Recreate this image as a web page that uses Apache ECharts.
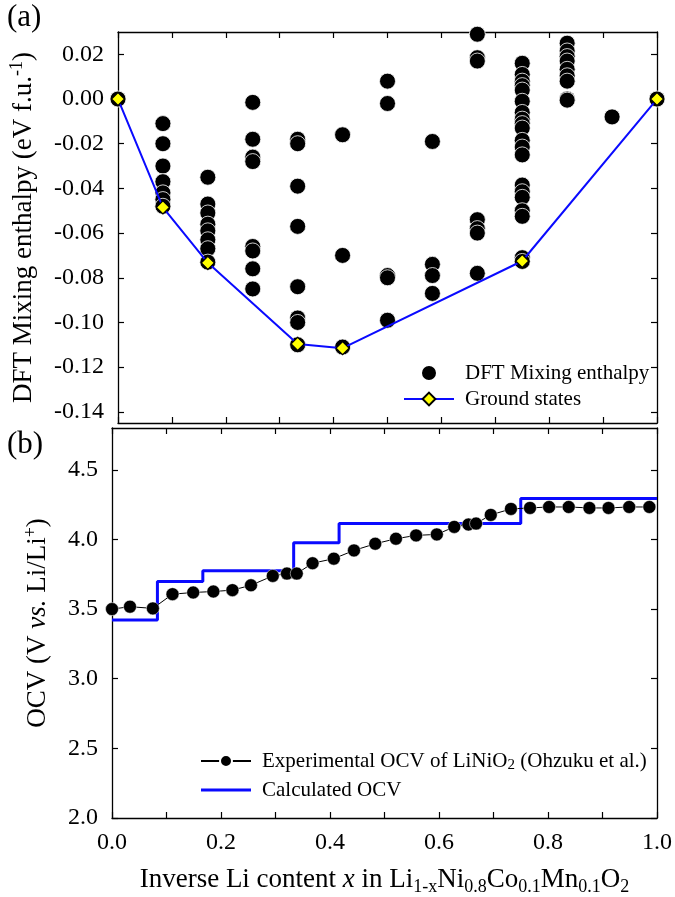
<!DOCTYPE html>
<html>
<head>
<meta charset="utf-8">
<script src="https://cdn.jsdelivr.net/npm/echarts@6/dist/echarts.min.js"></script>
<style>
html,body{margin:0;padding:0;background:#fff;}
#chart{width:675px;height:897px;}
</style>
</head>
<body>
<div id="chart"></div>
<script>
// ---- Panel (a): DFT mixing enthalpy (eV per f.u.) per composition x ----
const dftColumnX = [0, 1/12, 2/12, 3/12, 4/12, 5/12, 6/12, 7/12, 8/12, 9/12, 10/12, 11/12, 1];
const dftColumnE = [
  [0.000],
  [-0.011, -0.020, -0.030, -0.037, -0.042, -0.045, -0.048],
  [-0.035, -0.047, -0.051, -0.056, -0.059, -0.063, -0.067, -0.073],
  [-0.0015, -0.018, -0.026, -0.028, -0.066, -0.068, -0.076, -0.085],
  [-0.018, -0.020, -0.039, -0.057, -0.084, -0.098, -0.100, -0.110],
  [-0.016, -0.070, -0.111],
  [0.008, -0.002, -0.079, -0.080, -0.099],
  [-0.019, -0.074, -0.079, -0.087],
  [0.029, 0.0185, 0.017, -0.054, -0.058, -0.060, -0.078],
  [0.016, 0.011, 0.008, 0.006, 0.004, -0.001, -0.006, -0.009, -0.011, -0.013, -0.0185, -0.0215, -0.025,
   -0.0385, -0.0415, -0.044, -0.050, -0.0525, -0.071, -0.0727],
  [0.025, 0.0215, 0.019, 0.017, 0.0133, 0.0104, 0.008, 0.000, -0.0005],
  [-0.008],
  [0.000]
];
const groundX = [0, 1/12, 2/12, 4/12, 5/12, 9/12, 1];
const groundE = [0.000, -0.0485, -0.0733, -0.1096, -0.1115, -0.0725, 0.000];

// ---- Panel (b): OCV ----
const expX = [0.000, 0.033, 0.075, 0.111, 0.149, 0.186, 0.221, 0.255, 0.295, 0.321, 0.339, 0.368, 0.407,
  0.444, 0.483, 0.521, 0.558, 0.596, 0.628, 0.654, 0.668, 0.695, 0.732, 0.767, 0.802, 0.838, 0.876, 0.911, 0.949, 0.986];
const expV = [3.500, 3.517, 3.505, 3.607, 3.619, 3.626, 3.636, 3.671, 3.738, 3.755, 3.755, 3.829, 3.862,
  3.921, 3.969, 4.005, 4.029, 4.036, 4.090, 4.107, 4.114, 4.176, 4.219, 4.226, 4.233, 4.233, 4.226, 4.226, 4.233, 4.233];
const calcX = [0, 1/12, 2/12, 4/12, 5/12, 9/12, 1];
const calcV = [3.421, 3.698, 3.776, 3.976, 4.114, 4.293, 4.293];

// ---- Axis ticks / labels ----
const xTicks = [0, 0.1, 0.2, 0.3, 0.4, 0.5, 0.6, 0.7, 0.8, 0.9, 1.0];
const xLabels = [0, 0.2, 0.4, 0.6, 0.8, 1.0];
const yTicksA = [-0.14, -0.12, -0.10, -0.08, -0.06, -0.04, -0.02, 0.00, 0.02];
const yTicksB = [2.0, 2.5, 3.0, 3.5, 4.0, 4.5];

const FONT = 'Liberation Serif';
const dftData = [];
dftColumnX.forEach((x, i) => dftColumnE[i].forEach(e => dftData.push([x, e])));
const groundData = groundX.map((x, i) => [x, groundE[i]]);
const expData = expX.map((x, i) => [x, expV[i]]);
const calcData = calcX.map((x, i) => [x, calcV[i]]);

const axLine = {show: true, onZero: false, lineStyle: {color: '#000', width: 1.3}};
function xAx(grid, pos, labels) {
  return {
    type: 'value', gridIndex: grid, position: pos, min: 0, max: 1,
    axisLine: axLine,
    axisTick: {show: true, inside: true, length: 6, customValues: xTicks, lineStyle: {color: '#000', width: 1.2}},
    axisLabel: labels ? {show: true, customValues: xLabels, formatter: v => v.toFixed(1), margin: 13,
      fontFamily: FONT, fontSize: 24, color: '#000'} : {show: false},
    splitLine: {show: false}
  };
}
function yAx(grid, pos, min, max, ticks, dec, labels) {
  return {
    type: 'value', gridIndex: grid, position: pos, min: min, max: max,
    axisLine: axLine,
    axisTick: {show: true, inside: true, length: 6, customValues: ticks, lineStyle: {color: '#000', width: 1.2}},
    axisLabel: labels ? {show: true, customValues: ticks, formatter: v => v.toFixed(dec), margin: 14,
      fontFamily: FONT, fontSize: 24, color: '#000'} : {show: false},
    splitLine: {show: false}
  };
}
const richBase = {
  sub: {fontFamily: FONT, fontSize: 18, verticalAlign: 'bottom', lineHeight: 22, color: '#000'},
  sup: {fontFamily: FONT, fontSize: 18, verticalAlign: 'top', lineHeight: 22, color: '#000'},
  i: {fontFamily: FONT, fontSize: 27, fontStyle: 'italic', color: '#000'}
};
const nameStyle = {fontFamily: FONT, fontSize: 27, color: '#000', lineHeight: 32, rich: richBase};

const chart = echarts.init(document.getElementById('chart'), null, {renderer: 'canvas'});
const xa0 = xAx(0, 'bottom', false);
const xa2 = xAx(1, 'bottom', true);
xa2.name = 'Inverse Li content {i|x} in Li{sub|1-x}Ni{sub|0.8}Co{sub|0.1}Mn{sub|0.1}O{sub|2}';
xa2.nameLocation = 'middle';
xa2.nameGap = 46;
xa2.nameTextStyle = nameStyle;
const ya0 = yAx(0, 'left', -0.145, 0.03, yTicksA, 2, true);
ya0.name = 'DFT Mixing enthalpy (eV f.u.{sup|-1})';
ya0.nameLocation = 'middle';
ya0.nameGap = 78;
ya0.nameTextStyle = nameStyle;
const ya2 = yAx(1, 'left', 2.0, 4.8, yTicksB, 1, true);
ya2.name = 'OCV (V {i|vs.} Li/Li{sup|+})';
ya2.nameLocation = 'middle';
ya2.nameGap = 58;
ya2.nameTextStyle = nameStyle;

const option = {
  animation: false,
  backgroundColor: '#fff',
  grid: [
    {left: 112, right: 18, top: 32, height: 391},
    {left: 112, right: 18, top: 428, height: 392}
  ],
  xAxis: [xa0, xAx(0, 'top', false), xa2, xAx(1, 'top', false)],
  yAxis: [ya0, yAx(0, 'right', -0.145, 0.03, yTicksA, 2, false), ya2, yAx(1, 'right', 2.0, 4.8, yTicksB, 1, false)],
  legend: [
    {
      data: ['DFT Mixing enthalpy', 'Ground states'],
      orient: 'vertical', left: 403, top: 362, padding: 0, itemWidth: 50, itemHeight: 16, itemGap: 4,
      textStyle: {fontFamily: FONT, fontSize: 21, color: '#000', lineHeight: 22, padding: [0, 0, 0, 6]},
      selectedMode: false
    },
    {
      data: ['Experimental OCV', {name: 'Calculated OCV', icon: 'path://M0,0H50V3H0Z'}],
      orient: 'vertical', left: 200, top: 749, padding: 0, itemWidth: 50, itemHeight: 15, itemGap: 5,
      formatter: n => n === 'Experimental OCV' ? 'Experimental OCV of LiNiO{sub|2} (Ohzuku et al.)' : n,
      textStyle: {fontFamily: FONT, fontSize: 21, color: '#000', lineHeight: 24, padding: [0, 0, 0, 6],
        rich: {sub: {fontFamily: FONT, fontSize: 15, verticalAlign: 'bottom', lineHeight: 19, color: '#000'}}},
      selectedMode: false
    }
  ],
  graphic: [
    {type: 'text', left: 7, top: 2, style: {text: '(a)', fontFamily: FONT, fontSize: 31, fill: '#000'}},
    {type: 'text', left: 7, top: 429, style: {text: '(b)', fontFamily: FONT, fontSize: 31, fill: '#000'}}
  ],
  series: [
    {
      name: 'DFT Mixing enthalpy', type: 'scatter', xAxisIndex: 0, yAxisIndex: 0,
      data: dftData, symbol: 'circle', symbolSize: 16,
      itemStyle: {color: '#000', opacity: 1, borderColor: '#fff', borderWidth: 0.8}, z: 2
    },
    {
      name: 'Ground states', type: 'line', xAxisIndex: 0, yAxisIndex: 0,
      data: groundData, symbol: 'diamond', symbolSize: 13,
      lineStyle: {color: '#0a0aff', width: 2},
      itemStyle: {color: '#ffff00', borderColor: '#000', borderWidth: 1.2}, z: 3
    },
    {
      name: 'Calculated OCV', type: 'line', xAxisIndex: 2, yAxisIndex: 2,
      data: calcData, step: 'end', symbol: 'none',
      lineStyle: {color: '#0a0aff', width: 3}, itemStyle: {color: '#0a0aff'}, z: 2
    },
    {
      name: 'Experimental OCV', type: 'line', xAxisIndex: 2, yAxisIndex: 2,
      data: expData, symbol: 'circle', symbolSize: 13,
      lineStyle: {color: '#000', width: 1}, itemStyle: {color: '#000', borderColor: '#fff', borderWidth: 0.5}, z: 3
    }
  ]
};
chart.setOption(option);
</script>
</body>
</html>
